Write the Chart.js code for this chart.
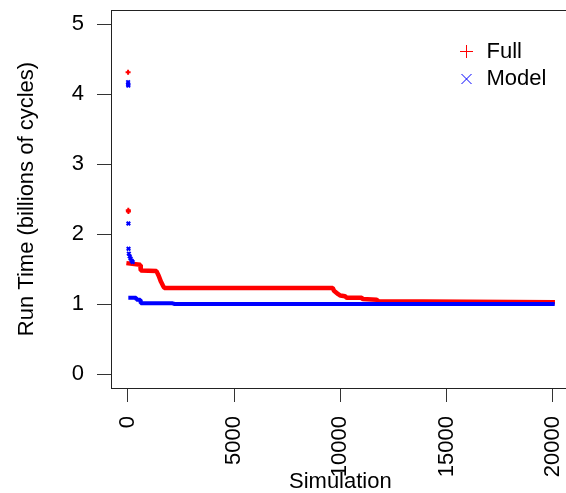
<!DOCTYPE html>
<html>
<head>
<meta charset="utf-8">
<script src="https://cdn.jsdelivr.net/npm/chart.js@4/dist/chart.umd.min.js"></script>
<style>
  html, body { margin: 0; padding: 0; background: #fff; overflow: hidden; }
  #wrap { width: 580px; height: 493px; }
</style>
</head>
<body>
<div id="wrap"><canvas id="runChart" width="580" height="493"></canvas></div>
<script>
// Tiempos de ejecución (miles de millones de ciclos) por simulación
const fullOutlierSim = [5, 15, 20];
const fullOutlierTime = [4.31, 2.34, 2.32];
const fullSim = [30, 580, 600, 1340, 1450, 1550, 1650, 1710, 9640, 9700, 9900, 10000, 10220, 10300, 11000, 11050, 11710, 11800, 20000];
const fullTime = [1.58, 1.56, 1.48, 1.47, 1.40, 1.32, 1.26, 1.23, 1.23, 1.19, 1.14, 1.12, 1.11, 1.09, 1.09, 1.07, 1.06, 1.04, 1.025];

const modelOutlierSim = [5, 10, 15, 20, 25, 40, 80, 120, 170, 220];
const modelOutlierTime = [4.17, 4.14, 4.12, 2.15, 1.79, 1.72, 1.68, 1.65, 1.62, 1.60];
const modelSim = [110, 380, 400, 580, 600, 2100, 2200, 20000];
const modelTime = [1.09, 1.09, 1.06, 1.06, 1.01, 1.01, 1.0, 1.0];

const xTicks = [0, 5000, 10000, 15000, 20000];
const yTicks = [0, 1, 2, 3, 4, 5];
const legendLabels = ["Full", "Model"];

const FONT = "'Liberation Sans', Arial, Helvetica, sans-serif";

function puntos(xs, ys) {
    return xs.map((x, i) => ({ x: x, y: ys[i] }));
}

// Caja alrededor del área y leyenda dentro de la gráfica
const cajaYLeyenda = {
    id: "cajaYLeyenda",
    afterDraw(chart) {
        const { ctx, chartArea: a } = chart;
        ctx.save();
        ctx.strokeStyle = "#222";
        ctx.lineWidth = 1;
        ctx.strokeRect(Math.round(a.left) + 0.5, Math.round(a.top) + 0.5, a.right - a.left, a.bottom - a.top);

        const sx = 466.5, tx = 486.5;
        const filas = [51.5, 79];
        ctx.lineWidth = 1;
        // +
        ctx.strokeStyle = "#ff0000";
        ctx.beginPath();
        ctx.moveTo(sx - 6.5, filas[0]); ctx.lineTo(sx + 6.5, filas[0]);
        ctx.moveTo(sx, filas[0] - 6.5); ctx.lineTo(sx, filas[0] + 6.5);
        ctx.stroke();
        // x
        ctx.strokeStyle = "#0000ff";
        ctx.beginPath();
        ctx.moveTo(sx - 5, filas[1] - 5); ctx.lineTo(sx + 5, filas[1] + 5);
        ctx.moveTo(sx - 5, filas[1] + 5); ctx.lineTo(sx + 5, filas[1] - 5);
        ctx.stroke();

        ctx.fillStyle = "#000";
        ctx.font = "22px " + FONT;
        ctx.textAlign = "left";
        ctx.textBaseline = "middle";
        legendLabels.forEach((t, i) => ctx.fillText(t, tx, filas[i]));
        ctx.restore();
    }
};

const ctx = document.getElementById("runChart").getContext("2d");

new Chart(ctx, {
    type: "scatter",
    data: {
        datasets: [
            {
                label: "Model",
                data: puntos(modelOutlierSim, modelOutlierTime),
                pointStyle: "crossRot",
                pointRadius: 2.5,
                borderColor: "#0000ff",
                backgroundColor: "#0000ff",
                pointBorderWidth: 2,
            },
            {
                label: "Model",
                data: puntos(modelSim, modelTime),
                showLine: true,
                pointRadius: 0,
                borderColor: "#0000ff",
                borderWidth: 4,
                borderCapStyle: "square",
                borderJoinStyle: "bevel",
            },
            {
                label: "Full",
                data: puntos(fullOutlierSim, fullOutlierTime),
                pointStyle: "cross",
                pointRadius: 2.5,
                borderColor: "#ff0000",
                backgroundColor: "#ff0000",
                pointBorderWidth: 2,
            },
            {
                label: "Full",
                data: puntos(fullSim, fullTime),
                showLine: true,
                pointRadius: 0,
                borderColor: "#ff0000",
                borderWidth: 4.5,
                borderCapStyle: "square",
                borderJoinStyle: "bevel",
            },
        ],
    },
    options: {
        responsive: false,
        animation: false,
        layout: { padding: { top: 10, right: 10.3, left: 0, bottom: 0 } },
        plugins: {
            legend: { display: false },
            tooltip: { enabled: false },
        },
        scales: {
            x: {
                type: "linear",
                min: -800,
                max: 20800,
                afterBuildTicks: (scale) => { scale.ticks = xTicks.map((v) => ({ value: v })); },
                afterFit: (scale) => {
                    scale.height = 105;
                    scale.paddingLeft = 0;
                    scale.paddingRight = 0;
                },
                grid: { drawOnChartArea: false, tickLength: 14, color: "#333" },
                border: { display: true, color: "#222" },
                ticks: {
                    minRotation: 90,
                    maxRotation: 90,
                    padding: 14,
                    color: "#000",
                    font: { family: FONT, size: 22 },
                    callback: (v) => String(v),
                },
                title: {
                    display: true,
                    text: "Simulation",
                    color: "#000",
                    padding: { top: 0, bottom: 0 },
                    font: { family: FONT, size: 22, lineHeight: 1 },
                },
            },
            y: {
                type: "linear",
                min: -0.2,
                max: 5.2,
                afterBuildTicks: (scale) => { scale.ticks = yTicks.map((v) => ({ value: v })); },
                afterFit: (scale) => {
                    scale.width = 111;
                    scale.paddingTop = 0;
                    scale.paddingBottom = 0;
                },
                grid: { drawOnChartArea: false, tickLength: 14, color: "#333" },
                border: { display: true, color: "#222" },
                ticks: {
                    padding: 13,
                    color: "#000",
                    font: { family: FONT, size: 22 },
                    callback: (v) => String(v),
                },
                title: {
                    display: true,
                    text: "Run Time (billions of cycles)",
                    color: "#000",
                    padding: { top: 16, bottom: 0 },
                    font: { family: FONT, size: 22, lineHeight: 1 },
                },
            },
        },
    },
    plugins: [cajaYLeyenda],
});
</script>
</body>
</html>
